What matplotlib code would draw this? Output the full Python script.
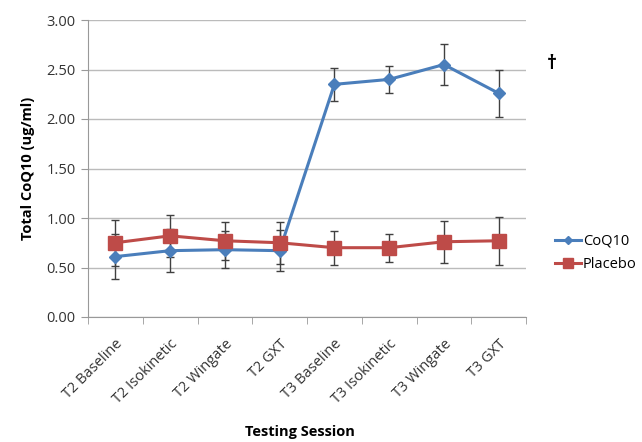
import numpy as np
import matplotlib.pyplot as plt

sessions = ["T2 Baseline", "T2 Isokinetic", "T2 Wingate", "T2 GXT",
            "T3 Baseline", "T3 Isokinetic", "T3 Wingate", "T3 GXT"]
coq10 = [0.61, 0.67, 0.68, 0.67, 2.35, 2.40, 2.55, 2.26]
coq10_err = [0.23, 0.22, 0.19, 0.21, 0.17, 0.14, 0.21, 0.24]
placebo = [0.75, 0.82, 0.77, 0.75, 0.70, 0.70, 0.76, 0.77]
placebo_err = [0.23, 0.21, 0.19, 0.21, 0.17, 0.14, 0.21, 0.24]

plt.rcParams['font.family'] = ['Open Sans', 'DejaVu Sans']

fig = plt.figure(figsize=(6.42, 4.42), dpi=100)
ax = fig.add_axes([88/642, 1 - 317/442, 438/642, 297/442])

x = np.arange(len(sessions))
ax.errorbar(x, coq10, yerr=coq10_err, color="#4A7EBB", marker="D", markersize=6,
            linewidth=2.2, ecolor="#404040", elinewidth=1, capsize=3, label="CoQ10", zorder=3)
ax.errorbar(x, placebo, yerr=placebo_err, color="#BE4B48", marker="s", markersize=10,
            linewidth=2.2, ecolor="#404040", elinewidth=1, capsize=3, label="Placebo", zorder=3)

ax.set_xlim(-0.5, len(sessions) - 0.5)
ax.set_ylim(0, 3)
ax.set_yticks(np.arange(0, 3.01, 0.5))
ax.set_yticklabels([f"{v:.2f}" for v in np.arange(0, 3.01, 0.5)], fontsize=10.5, color="#333333")
ax.set_xticks(x)
ax.set_xticklabels(sessions, rotation=45, ha="right", rotation_mode="anchor", fontsize=10.5, color="#333333")
ax.tick_params(axis="x", length=0, pad=14)
ax.set_xticks(np.arange(-0.5, len(sessions)), minor=True)
ax.tick_params(axis="x", which="minor", length=5, color="#999999")
ax.tick_params(axis="y", length=5, color="#999999", pad=4)
ax.grid(axis="y", color="#BBBBBB", linewidth=1)
ax.set_axisbelow(True)
for s in ["top", "right"]:
    ax.spines[s].set_visible(False)
for s in ["left", "bottom"]:
    ax.spines[s].set_color("#999999")

ax.set_ylabel("Total CoQ10 (ug/ml)", fontsize=10.5, fontweight="bold", labelpad=8)
fig.text(300/642, 1 - 432/442, "Testing Session", fontsize=10.5, fontweight="bold", ha="center", va="center")
fig.text(552/642, 1 - 64/442, "\u2020", fontsize=14, fontweight="bold", ha="center", va="center")

handles, labels = ax.get_legend_handles_labels()
handles = [h[0] for h in handles]
fig.legend(handles, labels, loc="center left", bbox_to_anchor=(542/642, 1 - 253/442),
           frameon=False, fontsize=10.5, handlelength=1.8, handletextpad=0.1, labelspacing=0.6,
           markerscale=0.7)

fig.savefig("out.png", dpi=100)
